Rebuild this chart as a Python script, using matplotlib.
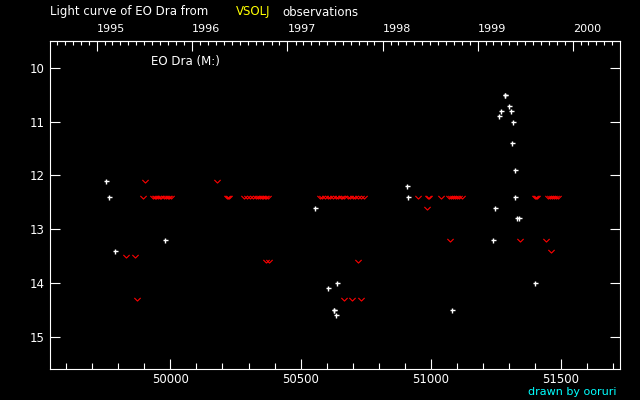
import datetime as dt
import numpy as np
import matplotlib
matplotlib.use("Agg")
import matplotlib.pyplot as plt
from matplotlib.path import Path

# positive observations (JD - 2400000, visual magnitude)
pos_jd = [49753, 49765, 49788, 49980, 50555, 50605, 50627, 50629, 50636, 50639,
          50908, 50912, 51081, 51238, 51246, 51262, 51269, 51283, 51285, 51299,
          51307, 51311, 51315, 51322, 51322, 51330, 51337, 51399]
pos_mag = [12.1, 12.4, 13.4, 13.2, 12.6, 14.1, 14.5, 14.5, 14.6, 14.0,
           12.2, 12.4, 14.5, 13.2, 12.6, 10.9, 10.8, 10.5, 10.5, 10.7,
           10.8, 11.4, 11.0, 11.9, 12.4, 12.8, 12.8, 14.0]

# fainter-than observations
neg_jd = [49830, 49865, 49872, 49895, 49903,
          49932, 49940, 49946, 49952, 49960, 49966, 49975, 49982, 49990, 49996, 50004,
          50179, 50216, 50220, 50225,
          50283, 50295, 50307, 50318, 50330, 50338, 50345, 50350, 50356, 50362, 50368, 50374,
          50369, 50378,
          50574, 50584, 50594, 50604, 50614, 50624, 50634, 50644, 50654, 50660, 50666,
          50680, 50690, 50700, 50710, 50722, 50732, 50745,
          50720, 50666, 50697, 50732,
          50950, 50988, 50994, 50984, 51038,
          51070, 51076, 51084, 51092, 51100, 51108, 51119, 51073,
          51398, 51403, 51408, 51450, 51458, 51466, 51474, 51482, 51488,
          51341, 51441, 51460]
neg_mag = [13.5, 13.5, 14.3, 12.4, 12.1,
           12.4, 12.4, 12.4, 12.4, 12.4, 12.4, 12.4, 12.4, 12.4, 12.4, 12.4,
           12.1, 12.4, 12.4, 12.4,
           12.4, 12.4, 12.4, 12.4, 12.4, 12.4, 12.4, 12.4, 12.4, 12.4, 12.4, 12.4,
           13.6, 13.6,
           12.4, 12.4, 12.4, 12.4, 12.4, 12.4, 12.4, 12.4, 12.4, 12.4, 12.4,
           12.4, 12.4, 12.4, 12.4, 12.4, 12.4, 12.4,
           13.6, 14.3, 14.3, 14.3,
           12.4, 12.4, 12.4, 12.6, 12.4,
           12.4, 12.4, 12.4, 12.4, 12.4, 12.4, 12.4, 13.2,
           12.4, 12.4, 12.4, 12.4, 12.4, 12.4, 12.4, 12.4, 12.4,
           13.2, 13.2, 13.4]

years = [1995, 1996, 1997, 1998, 1999, 2000]

fg = 'white'
xlo, xhi = 49538, 51726
ax_h = 328  # axes height in pixels

fig = plt.figure(figsize=(6.4, 4.0), dpi=100, facecolor='black')
ax = fig.add_axes([50/640, 31/400, 570/640, ax_h/400], facecolor='black')

vmark = Path([(-1, 0.5), (0, -0.5), (1, 0.5)])
ax.plot(neg_jd, neg_mag, ls='none', marker=vmark, ms=4.5, mew=0.8,
        mec='#ff0000', mfc='none')
ax.plot(pos_jd, pos_mag, ls='none', marker='+', ms=3.6, mew=1.0, color=fg)

ax.set_xlim(xlo, xhi)
ax.set_ylim(15.6, 9.5)

for s in ax.spines.values():
    s.set_color(fg)
    s.set_linewidth(0.8)

ax.set_xticks(np.arange(50000, 51501, 500))
ax.set_xticks(np.arange(49600, 51701, 100), minor=True)
ax.set_xticklabels([str(v) for v in range(50000, 51501, 500)])
ax.set_yticks(range(10, 16))
ax.tick_params(axis='x', which='major', direction='in', length=7, width=0.8,
               colors=fg, labelsize=8.5, pad=3, top=False)
ax.tick_params(axis='x', which='minor', direction='in', length=4, width=0.8,
               colors=fg, top=False)
ax.tick_params(axis='y', which='major', direction='in', length=7, width=0.8,
               colors=fg, labelsize=8.5, pad=4, left=True, right=True)

ax.text(101/570, 1 - 21/ax_h, 'EO Dra (M:)', transform=ax.transAxes,
        color=fg, fontsize=8.5, ha='left', va='center')

# calendar years on top axis
base = dt.date(1995, 1, 1)
def to_jd(d):
    return 49718.5 + (d - base).days

year_jd = [to_jd(dt.date(y, 1, 1)) for y in years]
months = [to_jd(dt.date(y, m, 1)) for y in range(1994, 2001) for m in range(1, 13)]
months = [m for m in months if xlo < m < xhi and m not in year_jd]

top = ax.secondary_xaxis('top')
top.set_xticks(year_jd)
top.set_xticklabels([str(y) for y in years], ha='left')
top.tick_params(axis='x', which='both', length=0, colors=fg,
                labelsize=8, pad=5)
top.spines['top'].set_color(fg)
top.spines['top'].set_linewidth(0.8)

# inward calendar ticks hanging from the top edge
tx = ax.get_xaxis_transform()
ax.vlines(year_jd, 1 - 10/ax_h, 1, transform=tx, colors=fg, lw=0.8)
ax.vlines(months, 1 - 3.5/ax_h, 1, transform=tx, colors=fg, lw=0.8)

fig.text(50/640, 1 - 12/400, 'Light curve of EO Dra from', color=fg,
         fontsize=8.5, ha='left', va='center')
fig.text(236/640, 1 - 12/400, 'VSOLJ', color='#ffff00', fontsize=8.5,
         ha='left', va='center')
fig.text(282/640, 1 - 12/400, 'observations', color=fg, fontsize=8.5,
         ha='left', va='center')
fig.text(617/640, 1 - 392/400, 'drawn by ooruri', color='#00ffff',
         fontsize=8, ha='right', va='center')

fig.savefig('out.png', dpi=100, facecolor='black')
